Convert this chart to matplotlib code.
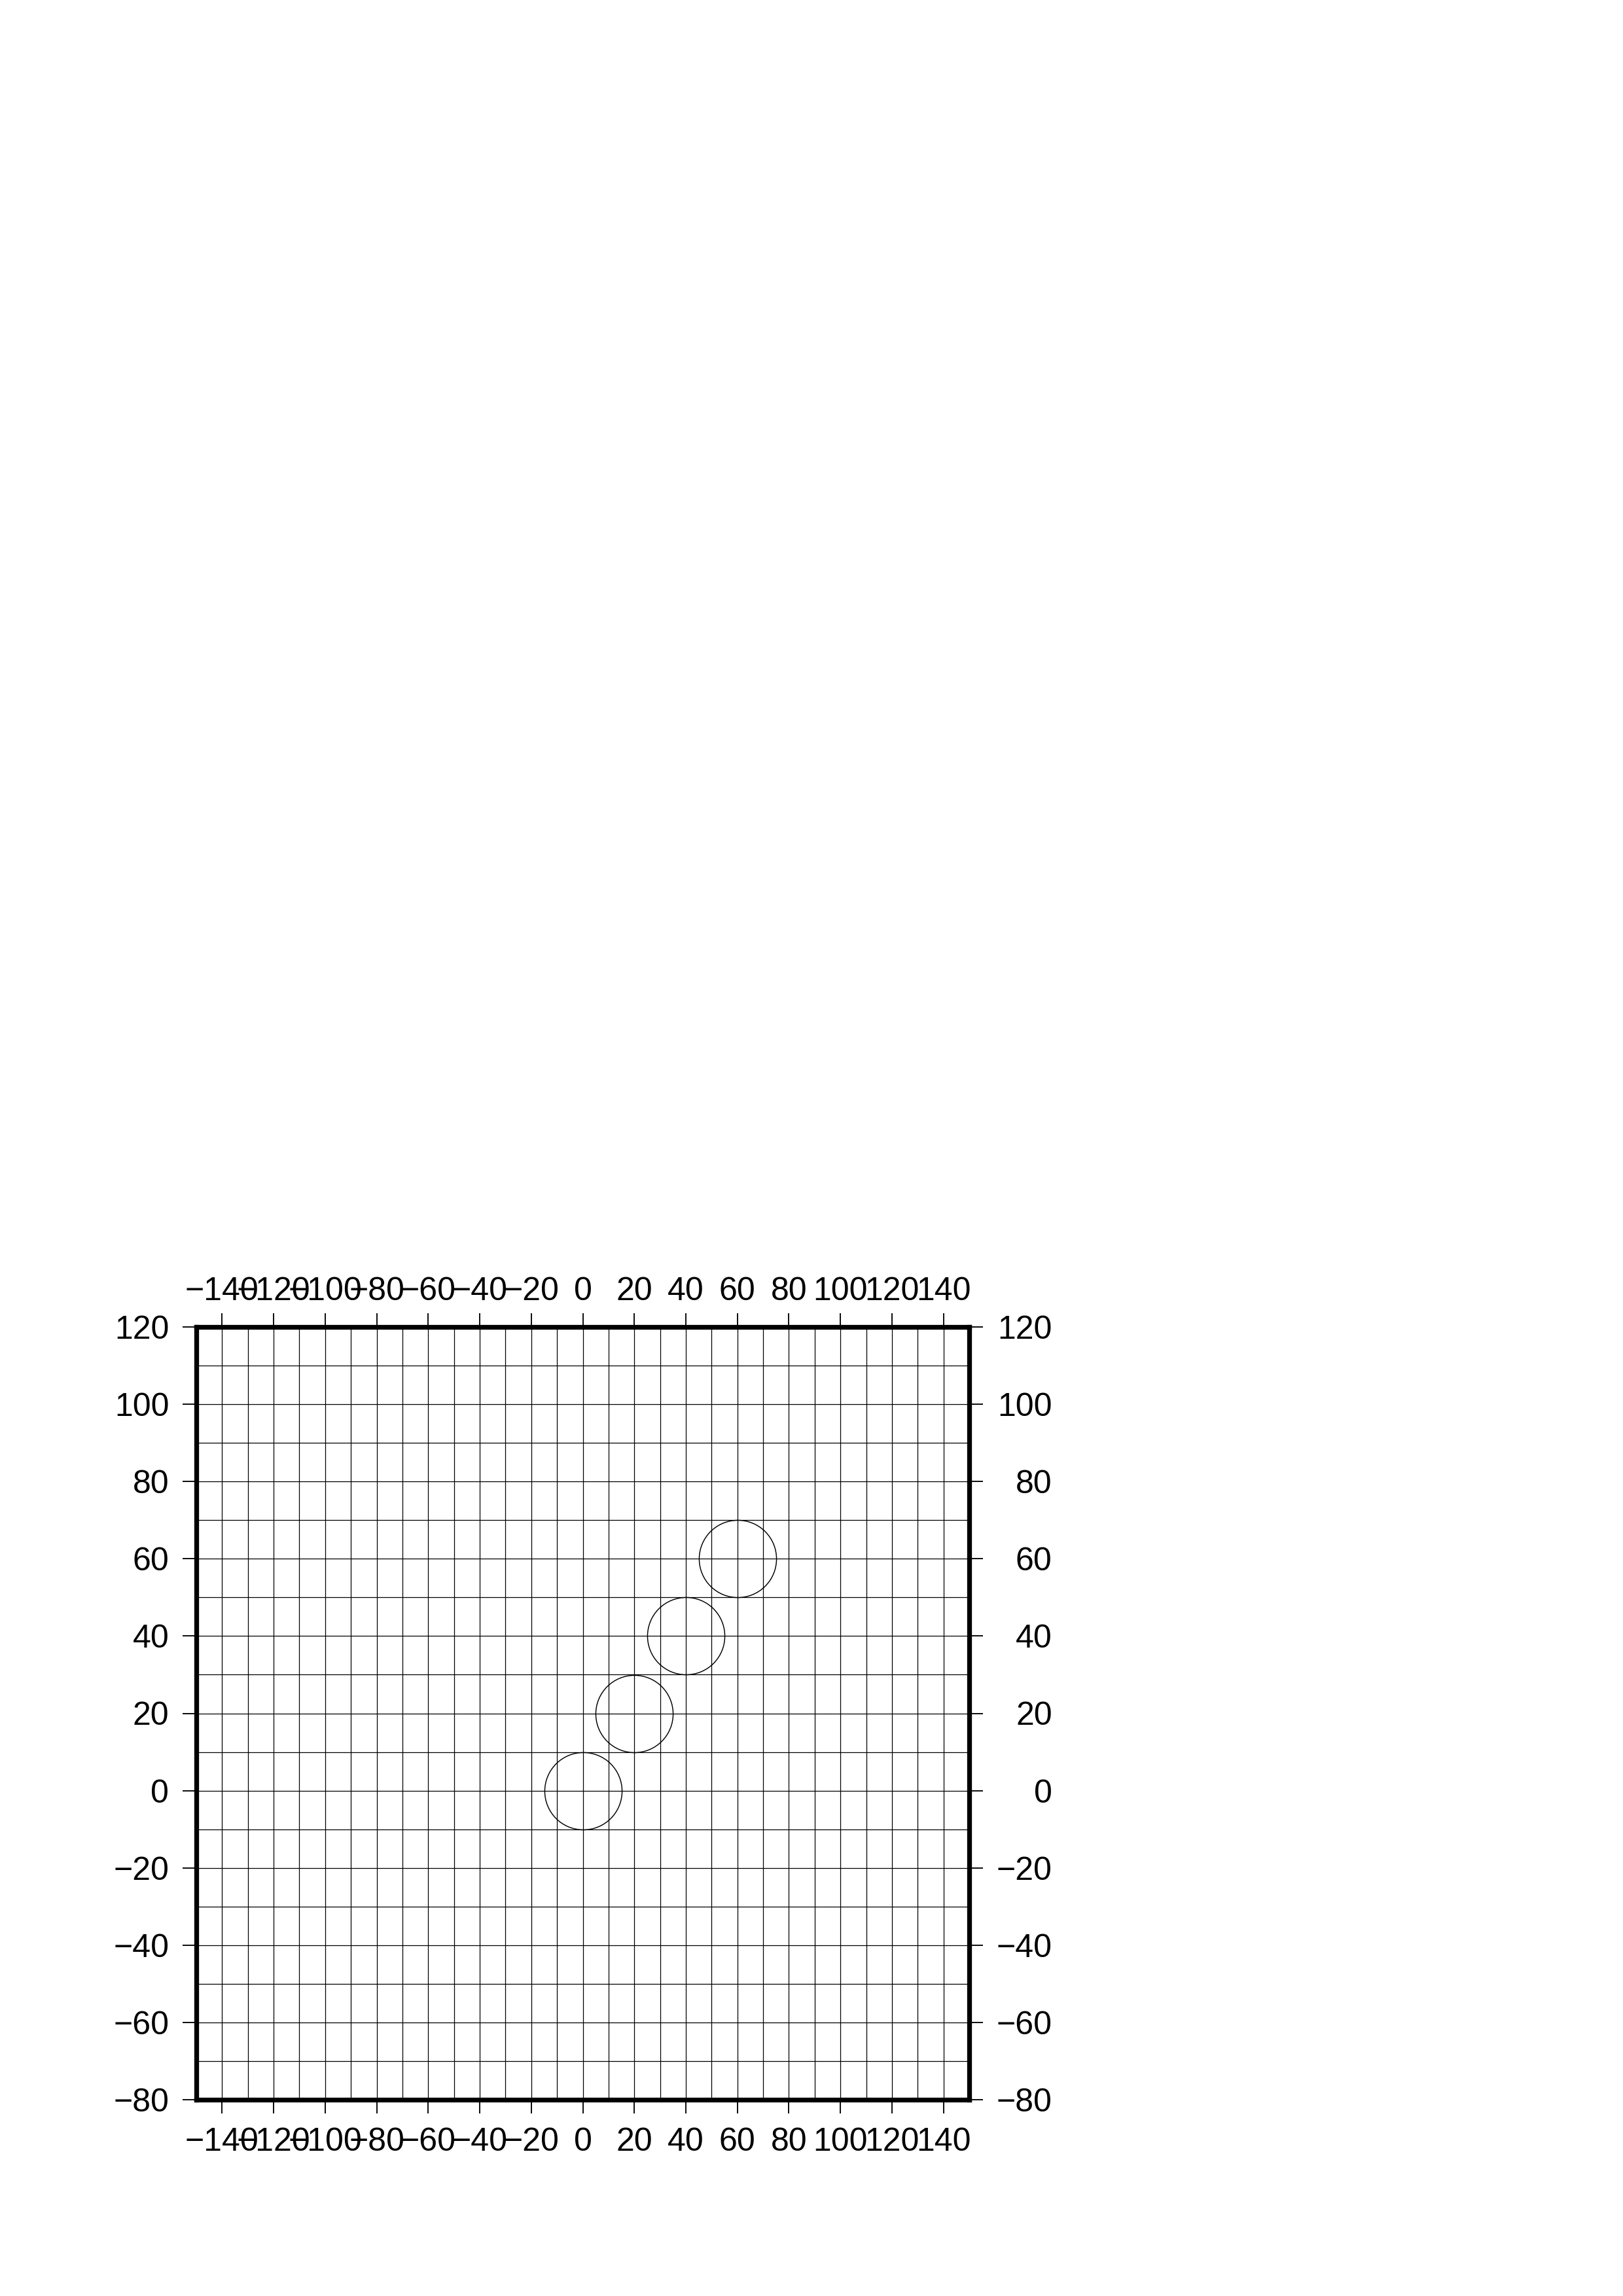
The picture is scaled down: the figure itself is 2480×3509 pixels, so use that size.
import matplotlib
matplotlib.use('Agg')
import matplotlib.pyplot as plt

# ---- data ----
x_range = [-150, 150]
y_range = [-80, 120]
x_ticks = list(range(-140, 141, 20))
y_ticks = list(range(-80, 121, 20))
x_grid = list(range(-150, 151, 10))
y_grid = list(range(-80, 121, 10))
circle_x = [0, 20, 40, 60]
circle_y = [0, 20, 40, 60]

plt.rcParams['font.family'] = ['Liberation Sans', 'DejaVu Sans']
plt.rcParams['axes.unicode_minus'] = True

W, H, DPI = 2480, 3509, 300
fig = plt.figure(figsize=(W / DPI, H / DPI), dpi=DPI)
ax = fig.add_axes([300 / W, 300 / H, 1181 / W, 1181 / H])
ax.set_xlim(x_range)
ax.set_ylim(y_range)

ax.set_xticks(x_ticks)
ax.set_yticks(y_ticks)
ax.set_xticks(x_grid, minor=True)
ax.set_yticks(y_grid, minor=True)

ax.grid(which='both', color='black', linewidth=0.3)
ax.set_axisbelow(True)

ax.tick_params(which='major', direction='out', length=5, width=0.45, pad=5,
               labelsize=12, top=False, right=False, labeltop=False,
               labelright=False, colors='black')
ax.tick_params(which='minor', length=0)

for s in ax.spines.values():
    s.set_linewidth(1.75)
    s.set_color('black')
    s.set_capstyle('projecting')

ax.plot(circle_x, circle_y, linestyle='none', marker='o', markersize=28.35,
        markerfacecolor='none', markeredgecolor='black', markeredgewidth=0.35,
        zorder=3)

# top axis (labels sit slightly closer, as in GMT)
ax3 = ax.twiny()
ax3.set_xlim(x_range)
ax3.set_xticks(x_ticks)
ax3.tick_params(direction='out', length=5, width=0.45, pad=2.5, labelsize=12,
                colors='black')
for s in ax3.spines.values():
    s.set_visible(False)

# right-side axis: labels right-aligned (as in GMT)
ax2 = ax.twinx()
ax2.set_ylim(y_range)
ax2.set_yticks(y_ticks)
ax2.tick_params(direction='out', length=5, width=0.45, pad=5, labelsize=12,
                colors='black')
for s in ax2.spines.values():
    s.set_visible(False)

fig.canvas.draw()
r = fig.canvas.get_renderer()
maxw = max(t.get_window_extent(renderer=r).width
           for t in ax2.get_yticklabels())
maxw_pt = maxw * 72 / DPI
ax2.tick_params(pad=5 + maxw_pt)
for t in ax2.get_yticklabels():
    t.set_horizontalalignment('right')

fig.savefig('out.png', dpi=DPI, facecolor='white')
